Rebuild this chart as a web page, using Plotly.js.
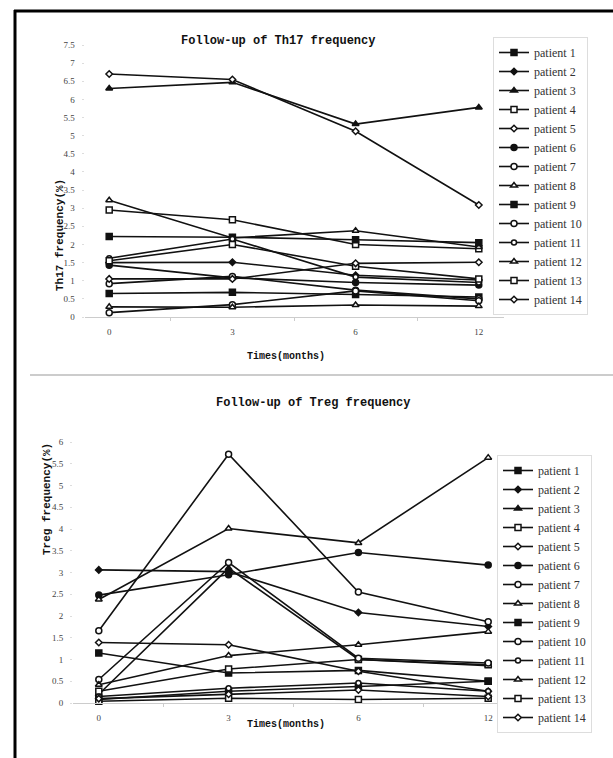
<!DOCTYPE html>
<html><head><meta charset="utf-8">
<script src="https://cdn.plot.ly/plotly-3.0.1.min.js"></script>
<style>html,body{margin:0;padding:0;background:#fff}#c{width:613px;height:758px}</style>
</head><body><div id="c"></div>
<script>
const times = ['0', '3', '6', '12'];
const patients = ['patient 1','patient 2','patient 3','patient 4','patient 5','patient 6','patient 7',
  'patient 8','patient 9','patient 10','patient 11','patient 12','patient 13','patient 14'];
const th17Ticks = ['0','0.5','1','1.5','2','2.5','3','3.5','4','4.5','5','5.5','6','6.5','7','7.5'];
const tregTicks = ['0','0.5','1','1.5','2','2.5','3','3.5','4','4.5','5','5.5','6'];

// Th17 frequency (%) at 0, 3, 6, 12 months
const th17_p1  = [0.65, 0.68, 0.62, 0.55];
const th17_p2  = [1.50, 1.51, 1.15, 1.02];
const th17_p3  = [6.30, 6.47, 5.32, 5.78];
const th17_p4  = [2.95, 2.68, 2.00, 1.88];
const th17_p5  = [6.70, 6.55, 5.12, 3.09];
const th17_p6  = [1.43, 1.08, 0.95, 0.88];
const th17_p7  = [0.92, 1.12, 0.74, 0.50];
const th17_p8  = [3.22, 2.18, 2.38, 1.93];
const th17_p9  = [2.22, 2.20, 2.13, 2.05];
const th17_p10 = [0.12, 0.34, 0.72, 0.45];
const th17_p11 = [1.62, 2.15, 1.10, 0.95];
const th17_p12 = [0.28, 0.27, 0.33, 0.30];
const th17_p13 = [1.55, 2.00, 1.40, 1.05];
const th17_p14 = [1.05, 1.05, 1.48, 1.51];

// Treg frequency (%) at 0, 3, 6, 12 months
const treg_p1  = [1.15, 0.69, 0.75, 0.50];
const treg_p2  = [3.06, 3.02, 2.08, 1.76];
const treg_p3  = [0.20, 3.10, 1.00, 0.86];
const treg_p4  = [0.27, 0.78, 1.00, 0.88];
const treg_p5  = [1.39, 1.34, 0.73, 0.27];
const treg_p6  = [2.48, 2.95, 3.46, 3.17];
const treg_p7  = [1.66, 5.72, 2.55, 1.87];
const treg_p8  = [2.38, 4.01, 3.68, 5.64];
const treg_p9  = [0.08, 0.27, 0.38, 0.50];
const treg_p10 = [0.54, 3.23, 1.03, 0.92];
const treg_p11 = [0.15, 0.34, 0.46, 0.27];
const treg_p12 = [0.42, 1.09, 1.34, 1.64];
const treg_p13 = [0.04, 0.11, 0.08, 0.11];
const treg_p14 = [0.10, 0.20, 0.30, 0.15];

const th17Series = [th17_p1,th17_p2,th17_p3,th17_p4,th17_p5,th17_p6,th17_p7,th17_p8,th17_p9,th17_p10,th17_p11,th17_p12,th17_p13,th17_p14];
const tregSeries = [treg_p1,treg_p2,treg_p3,treg_p4,treg_p5,treg_p6,treg_p7,treg_p8,treg_p9,treg_p10,treg_p11,treg_p12,treg_p13,treg_p14];

// marker style per patient: [symbol, filled, size]
const mk = [
  ['square', true, 6], ['diamond', true, 5], ['triangle-up', true, 6], ['square', false, 6],
  ['diamond', false, 5], ['circle', true, 6], ['circle', false, 6], ['triangle-up', false, 6],
  ['square', true, 6], ['circle', false, 6], ['circle', false, 5], ['triangle-up', false, 6],
  ['square', false, 6], ['diamond', false, 5]
];

const traces = [];
function add(series, xa, ya, leg) {
  series.forEach((vals, i) => {
    const m = mk[i];
    traces.push({
      type: 'scatter', mode: 'lines+markers', x: times, y: vals, name: patients[i],
      xaxis: xa, yaxis: ya, legend: leg, cliponaxis: false,
      line: {color: '#111', width: 1.6},
      marker: {symbol: m[0], size: m[2], color: m[1] ? '#111' : '#fff', line: {color: '#111', width: 1.5}}
    });
  });
}
add(th17Series, 'x', 'y', 'legend');
add(tregSeries, 'x2', 'y2', 'legend2');

const W = 613, H = 758;
const px = v => v / W, py = v => 1 - v / H;
const tickFont = {family: 'Liberation Serif, serif', size: 9, color: '#444'};
const axisTitleFont = {family: 'Liberation Mono, monospace', size: 11, color: '#111', weight: 'bold'};
const xCommon = {type: 'category', showgrid: false, zeroline: false, showline: true, linecolor: '#ccc',
  linewidth: 1, ticks: 'outside', tickson: 'boundaries', ticklen: 3, tickcolor: '#ccc',
  tickfont: tickFont, ticklabelstandoff: 6, fixedrange: true};
const yCommon = {showgrid: false, zeroline: false, showline: false, ticks: 'outside', ticklen: 2,
  tickcolor: '#ddd', tickfont: tickFont, ticklabelstandoff: 5};
const legCommon = {font: {family: 'Liberation Serif, serif', size: 12, color: '#333'},
  bgcolor: '#fff', bordercolor: '#ddd', borderwidth: 1, xanchor: 'left', yanchor: 'top', itemwidth: 30};

const layout = {
  width: W, height: H, margin: {l: 0, r: 0, t: 0, b: 0}, paper_bgcolor: '#fff', plot_bgcolor: '#fff',
  showlegend: true,
  xaxis: Object.assign({}, xCommon, {domain: [px(84.5), px(503.5)], anchor: 'y'}),
  yaxis: Object.assign({}, yCommon, {domain: [py(317), py(45)], range: [0, 7.5], anchor: 'x',
    tickmode: 'array', tickvals: th17Ticks.map(Number), ticktext: th17Ticks}),
  xaxis2: Object.assign({}, xCommon, {domain: [px(73), px(514)], anchor: 'y2'}),
  yaxis2: Object.assign({}, yCommon, {domain: [py(703), py(442)], range: [0, 6], anchor: 'x2',
    tickmode: 'array', tickvals: tregTicks.map(Number), ticktext: tregTicks}),
  legend: Object.assign({}, legCommon, {x: px(493), y: py(37)}),
  legend2: Object.assign({}, legCommon, {x: px(497), y: py(455)}),
  annotations: [
    {text: 'Follow-up of Th17 frequency', xref: 'paper', yref: 'paper', x: px(278), y: py(32),
      showarrow: false, font: {family: 'Liberation Mono, monospace', size: 12, color: '#111', weight: 'bold'}},
    {text: 'Follow-up of Treg frequency', xref: 'paper', yref: 'paper', x: px(313), y: py(403),
      showarrow: false, font: {family: 'Liberation Mono, monospace', size: 12, color: '#111', weight: 'bold'}},
    {text: 'Th17 frequency(%)', xref: 'paper', yref: 'paper', x: px(52), y: py(177), textangle: -90,
      showarrow: false, font: axisTitleFont},
    {text: 'Treg frequency(%)', xref: 'paper', yref: 'paper', x: px(39), y: py(557), textangle: -90,
      showarrow: false, font: axisTitleFont},
    {text: 'Times(months)', xref: 'paper', yref: 'paper', x: px(286), y: py(357),
      showarrow: false, font: {family: 'Liberation Mono, monospace', size: 10, color: '#111', weight: 'bold'}},
    {text: 'Times(months)', xref: 'paper', yref: 'paper', x: px(286), y: py(732),
      showarrow: false, font: {family: 'Liberation Mono, monospace', size: 10, color: '#111', weight: 'bold'}}
  ],
  shapes: [
    {type: 'line', xref: 'paper', yref: 'paper', x0: px(14), x1: 1, y0: py(11), y1: py(11),
      line: {color: '#000', width: 3}},
    {type: 'line', xref: 'paper', yref: 'paper', x0: px(15), x1: px(15), y0: py(10), y1: 0,
      line: {color: '#000', width: 3}},
    {type: 'line', xref: 'paper', yref: 'paper', x0: px(30), x1: 1, y0: py(375), y1: py(375),
      line: {color: '#ccc', width: 2}}
  ]
};
Plotly.newPlot('c', traces, layout, {staticPlot: true});
</script></body></html>
